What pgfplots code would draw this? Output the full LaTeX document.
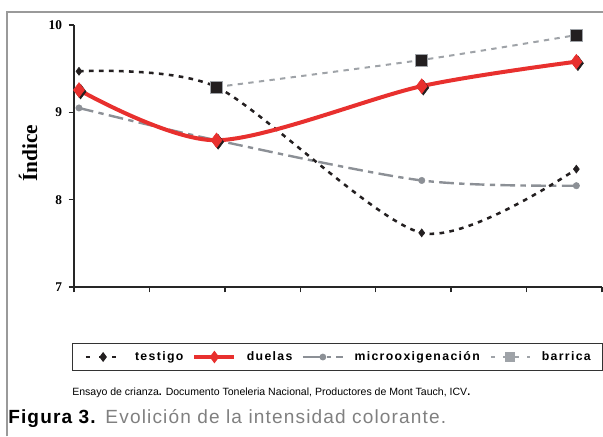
\documentclass[border=0pt]{standalone}
\usepackage{fontspec}
\setmainfont{Liberation Serif}
\newfontfamily\legfont[LetterSpace=11]{Liberation Sans}
\newfontfamily\capfont{Liberation Sans}
\newfontfamily\figfont[LetterSpace=6]{Liberation Sans}
\usepackage{pgfplots}
\pgfplotsset{compat=1.18}

\definecolor{rojo}{HTML}{E8302E}
\definecolor{negro}{HTML}{231F20}
\definecolor{grismicro}{HTML}{8C9096}
\definecolor{grisbarr}{HTML}{9FA3A8}
\definecolor{marco}{HTML}{9A9A9A}

\begin{document}
\begin{tikzpicture}
% 1 px of the reference = 0.75pt, origin at the lower left of the axis box
\useasboundingbox (-55.5pt,-111.75pt) rectangle (396.75pt,215.25pt);
\draw[marco, line width=1.8pt] (-50.25pt,-112pt) -- (-50.25pt,206.25pt) -- (397pt,206.25pt);

\begin{axis}[
    at={(0,0)}, anchor=south west,
    scale only axis,
    width=396pt, height=196.5pt,
    xmin=0, xmax=7, ymin=7, ymax=10,
    axis lines=left,
    axis line style={-, line width=1pt, black!85},
    xtick={0,1,...,7}, xticklabels={},
    ytick={7,8,9,10},
    tick style={line width=1pt, black!85},
    tick align=outside,
    major tick length=4pt,
    /pgf/number format/assume math mode=true,
    yticklabel style={font=\bfseries\fontsize{10}{10}\selectfont, xshift=-1.5pt},
    ylabel={Índice},
    every axis y label/.style={at={(axis description cs:-0.0871,0.51)}, rotate=90, anchor=center},
    ylabel style={font=\bfseries\fontsize{16}{16}\selectfont},
    clip=false,
    legend columns=4,
    legend cell align=left,
    legend style={at={(-0.0038,-0.2137)}, anchor=north west,
        draw=black!80, line width=0.8pt,
        font=\legfont\bfseries\fontsize{9.2}{11}\selectfont,
        inner xsep=7pt, inner ysep=4pt,
        /tikz/every even column/.append style={column sep=5pt},
        /tikz/every odd column/.append style={column sep=6pt}},
    legend image code/.code={%
        \draw[mark repeat=2,mark phase=2,#1] plot coordinates {(0pt,0pt)(15pt,0pt)(30pt,0pt)};},
]

% barrica
\addplot[grisbarr, line width=1.5pt, dash pattern=on 4pt off 4pt, smooth, forget plot]
    coordinates {(1.89,9.29) (4.61,9.60) (6.66,9.885)};
\addplot[only marks, mark=square*, mark size=4.5pt, mark options={fill=negro, draw=grisbarr, line width=0.6pt, solid}, forget plot]
    coordinates {(1.89,9.29) (4.61,9.60) (6.66,9.885)};

% microoxigenacion
\addplot[grismicro, line width=1.8pt, dash pattern=on 11pt off 4pt on 4pt off 4pt, smooth, forget plot]
    coordinates {(0.066,9.05) (1.89,8.68) (4.61,8.22) (6.66,8.16)};
\addplot[only marks, mark=*, mark size=2.4pt, mark options={fill=grismicro, draw=grismicro, solid}, forget plot]
    coordinates {(0.066,9.05) (1.89,8.68) (4.61,8.22) (6.66,8.16)};

% testigo
\addplot[negro, line width=1.9pt, dash pattern=on 3.5pt off 4pt, smooth, tension=0.45, forget plot]
    coordinates {(0.066,9.47) (1.89,9.29) (4.61,7.62) (6.66,8.35)};
\addplot[only marks, mark=diamond*, mark size=3pt, mark options={fill=negro, draw=negro, solid}, forget plot]
    coordinates {(0.066,9.47) (4.61,7.62) (6.66,8.35)};

% duelas
\addplot[rojo, line width=3pt, smooth, forget plot]
    coordinates {(0.066,9.256) (1.89,8.68) (4.61,9.30) (6.66,9.58)};
\addplot[only marks, mark=diamond*, mark size=5.5pt, mark options={fill=negro, draw=negro, xshift=1.2pt, yshift=-1.2pt}, forget plot]
    coordinates {(0.066,9.256) (1.89,8.68) (4.61,9.30) (6.66,9.58)};
\addplot[only marks, mark=diamond*, mark size=5.5pt, mark options={fill=rojo, draw=rojo}, forget plot]
    coordinates {(0.066,9.256) (1.89,8.68) (4.61,9.30) (6.66,9.58)};

% legend
\addlegendimage{negro, line width=1.9pt, dash pattern=on 3pt off 7pt, dash phase=-2pt, mark=diamond*, mark size=2.2pt, mark options={solid}}
\addlegendentry{testigo}
\addlegendimage{rojo, line width=2.6pt, mark=diamond*, mark size=2.6pt}
\addlegendentry{duelas}
\addlegendimage{grismicro, line width=1.6pt, dash pattern=on 14pt off 4pt on 3pt off 4pt, mark=*, mark size=1.7pt, mark options={solid}}
\addlegendentry{microoxigenación}
\addlegendimage{grisbarr, line width=1.5pt, dash pattern=on 3pt off 6pt, dash phase=-1pt, mark=square*, mark size=3pt, mark options={solid, fill=grisbarr}}
\addlegendentry{barrica}
\end{axis}

\node[anchor=base west, inner sep=0pt, font=\capfont\fontsize{7.9}{9}\selectfont] at (-1.5pt,-81pt)
    {Ensayo de crianza\textbf{.} Documento Toneleria Nacional, Productores de Mont Tauch, ICV\textbf{.}};
\node[anchor=base west, inner sep=0pt, font=\figfont\fontsize{14.3}{16}\selectfont] at (-49.5pt,-102pt)
    {\textbf{Figura 3.} \textcolor{black!50}{Evolición de la intensidad colorante.}};
\end{tikzpicture}
\end{document}
